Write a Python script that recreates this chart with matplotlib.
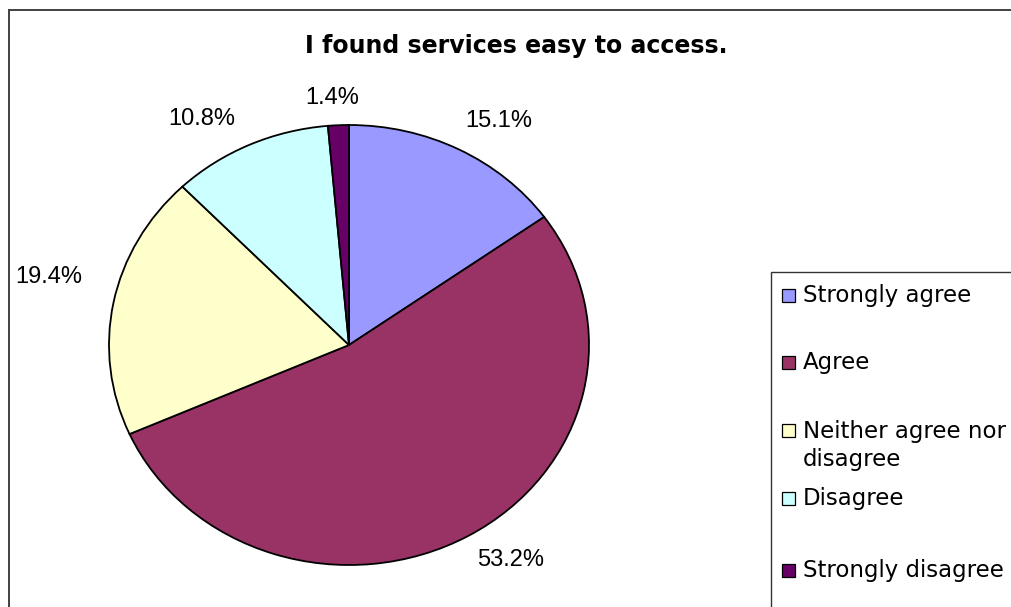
import numpy as np
import matplotlib
matplotlib.use("Agg")
import matplotlib.pyplot as plt
from matplotlib.patches import Rectangle

# Survey responses (percent of respondents)
categories = ["Strongly agree", "Agree", "Neither agree nor\ndisagree",
              "Disagree", "Strongly disagree"]
shares = [15.1, 53.2, 19.4, 10.8, 1.4]
title = "I found services easy to access."

colors = ["#9999FF", "#993366", "#FFFFCC", "#CCFFFF", "#660066"]
# label offsets from each wedge's rim midpoint, in pixels
label_offsets = [(40, 28), (43, -24), (-65, 26), (-48, 26), (-6, 27)]

W, H = 1012, 607
fig = plt.figure(figsize=(W / 100, H / 100), dpi=100)
fig.patch.set_facecolor("white")


def fx(px):
    return px / W


def fy(py):
    return 1 - py / H


# chart area border (left and top edges visible)
fig.add_artist(plt.Line2D([fx(9), fx(9)], [fy(10), 0], transform=fig.transFigure,
                          color="#404040", lw=1.4))
fig.add_artist(plt.Line2D([fx(9), 1], [fy(10), fy(10)], transform=fig.transFigure,
                          color="#404040", lw=1.4))

# title
fig.text(fx(516), fy(46), title, ha="center", va="center",
         fontsize=17, fontweight="bold", family="DejaVu Sans", color="black")

# pie (elliptical: axes not forced to equal aspect)
ax = fig.add_axes([fx(109), fy(565), fx(589) - fx(109), fy(125) - fy(565)])
wedges, _ = ax.pie(shares, colors=colors, startangle=90, counterclock=False,
                   radius=1.0, wedgeprops=dict(edgecolor="black", linewidth=1.3))
ax.set_aspect("auto")
ax.set_xlim(-1, 1)
ax.set_ylim(-1, 1)
ax.axis("off")

for w, v, off in zip(wedges, shares, label_offsets):
    ang = np.deg2rad((w.theta1 + w.theta2) / 2)
    ax.annotate(f"{v:.1f}%", xy=(np.cos(ang), np.sin(ang)), xytext=off,
                textcoords="offset pixels", ha="center", va="center",
                fontsize=17, family="Liberation Sans", color="black",
                annotation_clip=False)

# legend box (extends past the right and bottom edges)
fig.add_artist(Rectangle((fx(771), fy(620)), fx(300), fy(272) - fy(620),
                         transform=fig.transFigure, facecolor="white",
                         edgecolor="#333333", lw=1.0))

marker_rows = [295, 362, 430, 498, 570]
msize = 13
line_gap = 29.5
for cat, col, yc in zip(categories, colors, marker_rows):
    fig.add_artist(Rectangle((fx(788 - msize / 2), fy(yc + msize / 2)),
                             fx(msize), fy(0) - fy(msize),
                             transform=fig.transFigure, facecolor=col,
                             edgecolor="black", lw=0.9))
    # baseline alignment of multi-line text refers to the last line
    extra = (cat.count("\n")) * line_gap
    fig.text(fx(803), fy(yc + 6.5 + extra), cat, ha="left", va="baseline",
             fontsize=16.5, family="DejaVu Sans", color="black",
             linespacing=1.29)

fig.savefig("out.png", dpi=100, facecolor="white")
